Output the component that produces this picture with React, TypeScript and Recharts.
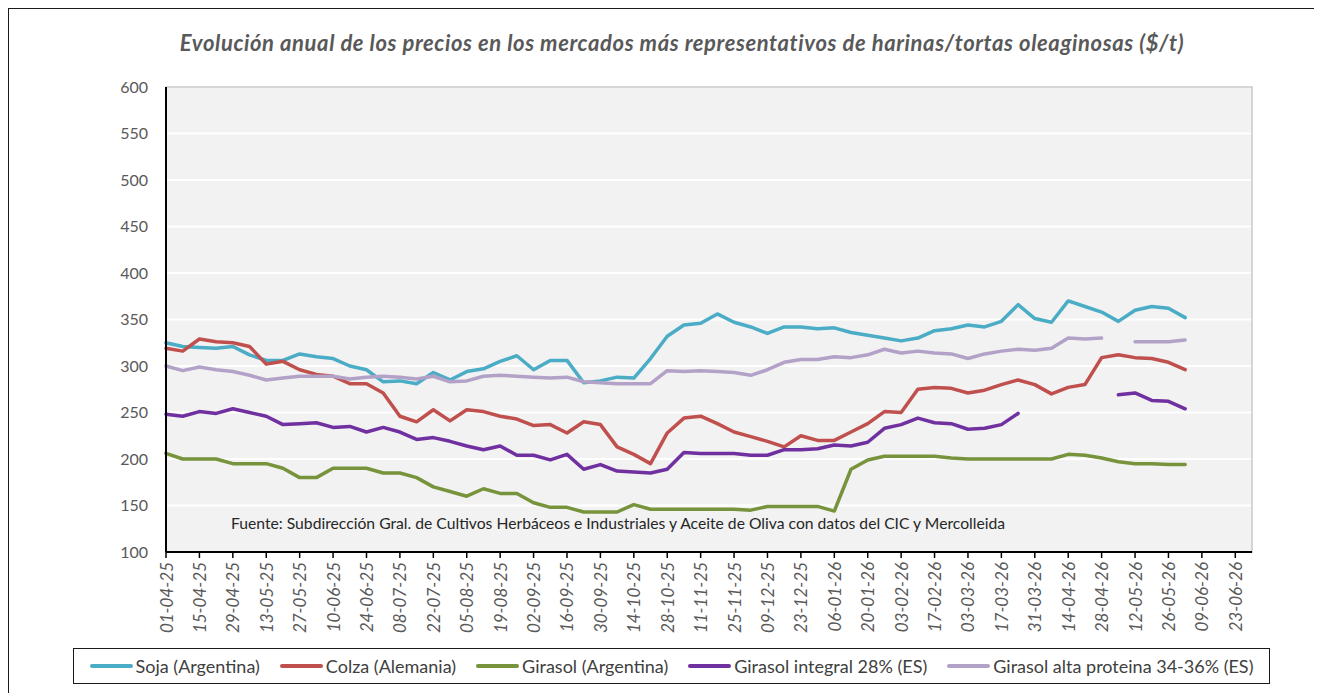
import { LineChart, Line, XAxis, YAxis, CartesianGrid, ReferenceArea } from 'recharts';

// semanas (martes) desde 01-04-25
const dates = [
  '01-04-25', '08-04-25', '15-04-25', '22-04-25', '29-04-25', '06-05-25', '13-05-25', '20-05-25',
  '27-05-25', '03-06-25', '10-06-25', '17-06-25', '24-06-25', '01-07-25', '08-07-25', '15-07-25',
  '22-07-25', '29-07-25', '05-08-25', '12-08-25', '19-08-25', '26-08-25', '02-09-25', '09-09-25',
  '16-09-25', '23-09-25', '30-09-25', '07-10-25', '14-10-25', '21-10-25', '28-10-25', '04-11-25',
  '11-11-25', '18-11-25', '25-11-25', '02-12-25', '09-12-25', '16-12-25', '23-12-25', '30-12-25',
  '06-01-26', '13-01-26', '20-01-26', '27-01-26', '03-02-26', '10-02-26', '17-02-26', '24-02-26',
  '03-03-26', '10-03-26', '17-03-26', '24-03-26', '31-03-26', '07-04-26', '14-04-26', '21-04-26',
  '28-04-26', '05-05-26', '12-05-26', '19-05-26', '26-05-26', '02-06-26', '09-06-26', '16-06-26',
  '23-06-26', '30-06-26',
];

const soja = [
  325, 321, 320, 319, 321, 312, 306, 306, 313, 310, 308, 300, 296, 283, 284, 281,
  293, 285, 294, 297, 305, 311, 296, 306, 306, 282, 284, 288, 287, 308, 332, 344,
  346, 356, 347, 342, 335, 342, 342, 340, 341, 336, 333, 330, 327, 330, 338, 340,
  344, 342, 348, 366, 351, 347, 370, 364, 358, 348, 360, 364, 362, 352,
];

const colza = [
  319, 316, 329, 326, 325, 321, 302, 305, 296, 291, 289, 281, 281, 271, 246, 240,
  253, 241, 253, 251, 246, 243, 236, 237, 228, 240, 237, 213, 205, 195, 228, 244,
  246, 238, 229, 224, 219, 213, 225, 220, 220, 229, 238, 251, 250, 275, 277, 276,
  271, 274, 280, 285, 280, 270, 277, 280, 309, 312, 309, 308, 304, 296,
];

const girasolArg = [
  206, 200, 200, 200, 195, 195, 195, 190, 180, 180, 190, 190, 190, 185, 185, 180,
  170, 165, 160, 168, 163, 163, 153, 148, 148, 143, 143, 143, 151, 146, 146, 146,
  146, 146, 146, 145, 149, 149, 149, 149, 144, 189, 199, 203, 203, 203, 203, 201,
  200, 200, 200, 200, 200, 200, 205, 204, 201, 197, 195, 195, 194, 194,
];

const girasolIntegral = [
  248, 246, 251, 249, 254, 250, 246, 237, 238, 239, 234, 235, 229, 234, 229, 221,
  223, 219, 214, 210, 214, 204, 204, 199, 205, 189, 194, 187, 186, 185, 189, 207,
  206, 206, 206, 204, 204, 210, 210, 211, 215, 214, 218, 233, 237, 244, 239, 238,
  232, 233, 237, 249, null, null, null, null, null, 269, 271, 263, 262, 254,
];

const girasolAltaProt = [
  300, 295, 299, 296, 294, 290, 285, 287, 289, 289, 289, 286, 288, 289, 288, 286,
  289, 283, 284, 289, 290, 289, 288, 287, 288, 283, 282, 281, 281, 281, 295, 294,
  295, 294, 293, 290, 296, 304, 307, 307, 310, 309, 312, 318, 314, 316, 314, 313,
  308, 313, 316, 318, 317, 319, 330, 329, 330, null, 326, 326, 326, 328,
];

const yTicks = [100, 150, 200, 250, 300, 350, 400, 450, 500, 550, 600];

const series = [
  { key: 'soja', name: 'Soja (Argentina)', color: '#4BACC6' },
  { key: 'colza', name: 'Colza (Alemania)', color: '#C0504D' },
  { key: 'girasolArg', name: 'Girasol (Argentina)', color: '#77933C' },
  { key: 'girasolIntegral', name: 'Girasol integral 28% (ES)', color: '#7030A0' },
  { key: 'girasolAltaProt', name: 'Girasol alta proteina 34-36% (ES)', color: '#B3A2C7' },
];

const data = dates.map((date, i) => ({
  date,
  soja: soja[i] ?? null,
  colza: colza[i] ?? null,
  girasolArg: girasolArg[i] ?? null,
  girasolIntegral: girasolIntegral[i] ?? null,
  girasolAltaProt: girasolAltaProt[i] ?? null,
}));

const FONT = 'Lato, "Open Sans", sans-serif';

const DateTick = ({ x, y, payload }: any) => (
  <text
    transform={`translate(${x},${y}) rotate(-90)`}
    textAnchor="end"
    dominantBaseline="central"
    fontSize={17}
    fontStyle="italic"
    fill="#595959"
    fontFamily={FONT}
  >
    {payload.value}
  </text>
);

export default function App() {
  return (
    <div style={{ position: 'relative', width: 1314, height: 685, fontFamily: FONT }}>
      <div
        style={{
          position: 'absolute',
          left: -1,
          top: -1,
          width: 1315,
          height: 686,
          borderLeft: '2px solid #1a1a1a',
          borderTop: '2px solid #1a1a1a',
          boxSizing: 'border-box',
          pointerEvents: 'none',
        }}
      />
      <div
        style={{
          position: 'absolute',
          left: 674,
          top: 21,
          transform: 'translateX(-50%)',
          whiteSpace: 'nowrap',
          fontSize: 22,
          letterSpacing: 0.6,
          fontWeight: 700,
          fontStyle: 'italic',
          color: '#595959',
        }}
      >
        Evolución anual de los precios en los mercados más representativos de harinas/tortas oleaginosas ($/t)
      </div>

      <LineChart width={1314} height={685} data={data} margin={{ top: 79, right: 70, bottom: 0, left: 0 }}>
        <CartesianGrid vertical={false} stroke="#ffffff" strokeWidth={2} fill="#f2f2f2" />
        <ReferenceArea
          x1={dates[0]}
          x2={dates[dates.length - 1]}
          y1={100}
          y2={600}
          fill="none"
          stroke="#c9c9c9"
          strokeWidth={1.5}
          ifOverflow="visible"
        />
        <XAxis
          dataKey="date"
          interval={1}
          height={141}
          tick={<DateTick />}
          tickSize={6}
          tickMargin={4}
          axisLine={{ stroke: '#000', strokeWidth: 2 }}
          tickLine={{ stroke: '#000', strokeWidth: 1.5 }}
        />
        <YAxis
          domain={[100, 600]}
          ticks={yTicks}
          width={158}
          tickLine={false}
          tickSize={6}
          tickMargin={12}
          axisLine={{ stroke: '#000', strokeWidth: 2 }}
          tick={{ fill: '#595959', fontSize: 16, fontFamily: FONT }}
        />
        {series.map((s) => (
          <Line
            key={s.key}
            type="linear"
            dataKey={s.key}
            name={s.name}
            stroke={s.color}
            strokeWidth={3.5}
            strokeLinejoin="round"
            strokeLinecap="round"
            dot={false}
            activeDot={false}
            isAnimationActive={false}
          />
        ))}
      </LineChart>

      <div
        style={{
          position: 'absolute',
          left: 223,
          top: 506,
          fontSize: 15.7,
          color: '#262626',
          whiteSpace: 'nowrap',
        }}
      >
        Fuente: Subdirección Gral. de Cultivos Herbáceos e Industriales y Aceite de Oliva con datos del CIC y Mercolleida
      </div>

      <div
        style={{
          position: 'absolute',
          left: 65,
          top: 640,
          width: 1197,
          height: 36,
          border: '1px solid #1a1a1a',
          boxSizing: 'border-box',
          display: 'flex',
          alignItems: 'center',
          justifyContent: 'center',
          gap: 20,
          fontSize: 18,
          color: '#404040',
        }}
      >
        {series.map((s) => (
          <div key={s.key} style={{ display: 'flex', alignItems: 'center', whiteSpace: 'nowrap' }}>
            <span
              style={{
                display: 'inline-block',
                width: 43,
                height: 4,
                borderRadius: 2,
                background: s.color,
                marginRight: 3,
              }}
            />
            {s.name}
          </div>
        ))}
      </div>
    </div>
  );
}
